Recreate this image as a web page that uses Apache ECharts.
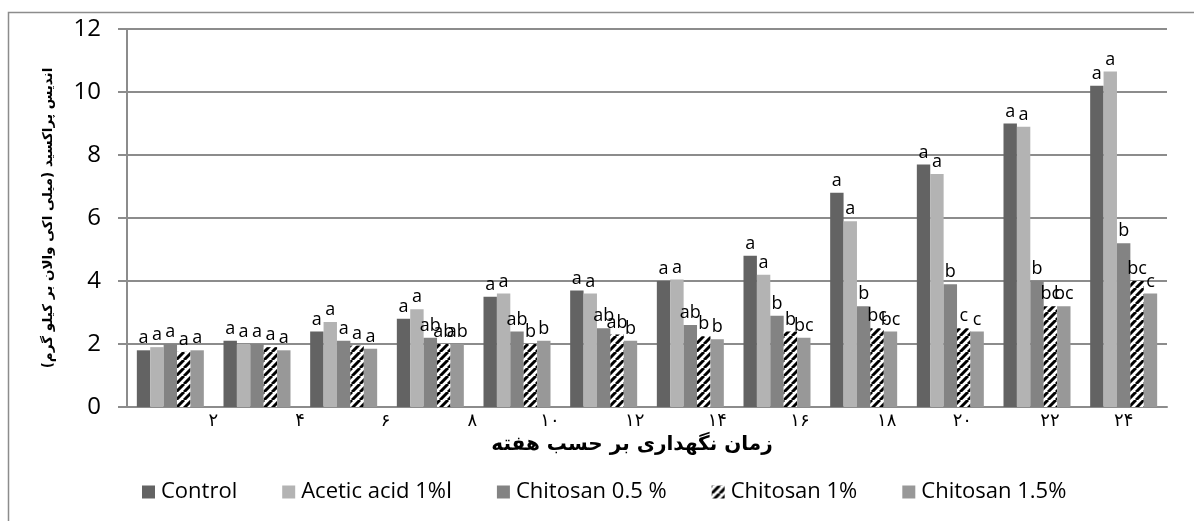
<!DOCTYPE html>
<html>
<head>
<meta charset="utf-8">
<script src="https://cdn.jsdelivr.net/npm/echarts@6/dist/echarts.min.js"></script>
<style>
  html, body { margin: 0; padding: 0; background: #fff; }
  #main { width: 1194px; height: 521px; }
</style>
</head>
<body>
<div id="main"></div>
<script>
// هفته ها
var weeks = ['۲', '۴', '۶', '۸', '۱۰', '۱۲', '۱۴', '۱۶', '۱۸', '۲۰', '۲۲', '۲۴'];
var yTicks = [0, 2, 4, 6, 8, 10, 12];

// مقادیر اندیس پراکسید
var control    = [1.8, 2.1, 2.4, 2.8, 3.5, 3.7, 4.0, 4.8, 6.8, 7.7, 9.0, 10.2];
var acetic     = [1.9, 2.0, 2.7, 3.1, 3.6, 3.6, 4.05, 4.2, 5.9, 7.4, 8.9, 10.65];
var chitosan05 = [2.0, 2.0, 2.1, 2.2, 2.4, 2.5, 2.6, 2.9, 3.2, 3.9, 4.0, 5.2];
var chitosan1  = [1.75, 1.9, 1.95, 2.0, 2.0, 2.3, 2.25, 2.4, 2.5, 2.5, 3.2, 4.0];
var chitosan15 = [1.8, 1.8, 1.85, 2.0, 2.1, 2.1, 2.15, 2.2, 2.4, 2.4, 3.2, 3.6];

// حروف معنی داری
var controlLetters    = ['a', 'a', 'a', 'a', 'a', 'a', 'a', 'a', 'a', 'a', 'a', 'a'];
var aceticLetters     = ['a', 'a', 'a', 'a', 'a', 'a', 'a', 'a', 'a', 'a', 'a', 'a'];
var chitosan05Letters = ['a', 'a', 'a', 'ab', 'ab', 'ab', 'ab', 'b', 'b', 'b', 'b', 'b'];
var chitosan1Letters  = ['a', 'a', 'a', 'ab', 'b', 'ab', 'b', 'b', 'bc', 'c', 'bc', 'bc'];
var chitosan15Letters = ['a', 'a', 'a', 'ab', 'b', 'b', 'b', 'bc', 'bc', 'c', 'bc', 'c'];

// جابجایی برچسب های محور افقی (مثل اکسل)
var labelShift = [43, 43, 42, 42, 33, 31, 27, 23, 23, 12, 13, 0];

var latin = '"Open Sans", "Liberation Sans", sans-serif';
var persian = '"DejaVu Sans", sans-serif';

// هاشور مورب
function stripes() {
  var c = document.createElement('canvas');
  c.width = 8; c.height = 8;
  var ctx = c.getContext('2d');
  ctx.fillStyle = '#fff';
  ctx.fillRect(0, 0, 8, 8);
  ctx.strokeStyle = '#000';
  ctx.lineWidth = 3;
  ctx.beginPath();
  for (var k = -8; k <= 8; k += 8) {
    ctx.moveTo(k, 8);
    ctx.lineTo(k + 8, 0);
  }
  ctx.stroke();
  return { image: c, repeat: 'repeat' };
}

var chart = echarts.init(document.getElementById('main'), null, { renderer: 'canvas' });

function makeSeries(name, data, letters, color) {
  return {
    name: name,
    type: 'bar',
    data: data,
    barWidth: 13.4,
    barGap: '0%',
    itemStyle: { color: color },
    label: {
      show: true,
      position: 'top',
      distance: 3,
      fontFamily: latin,
      fontSize: 18,
      color: '#000',
      formatter: function (p) { return letters[p.dataIndex]; }
    }
  };
}

var rich = {};
labelShift.forEach(function (s, i) {
  rich['s' + i] = { padding: [0, 0, 0, s * 2], fontFamily: persian, fontSize: 18, color: '#000' };
});

var option = {
  animation: false,
  backgroundColor: '#fff',
  graphic: [{
    type: 'rect',
    shape: { x: 8.5, y: 12.5, width: 1200, height: 520 },
    style: { fill: 'none', stroke: '#8c8c8c', lineWidth: 1.5 },
    silent: true
  }],
  grid: { left: 127, right: 27, top: 29, bottom: 114 },
  legend: {
    left: 137,
    top: 476,
    itemWidth: 13,
    itemHeight: 13,
    itemGap: 45,
    icon: 'rect',
    textStyle: { fontFamily: latin, fontSize: 22, color: '#000', padding: [0, 0, 0, 1] },
    data: ['Control', 'Acetic acid 1%ا', 'Chitosan 0.5 %', 'Chitosan 1%', 'Chitosan 1.5%']
  },
  xAxis: {
    type: 'category',
    data: weeks,
    name: 'زمان نگهداری بر حسب هفته',
    nameLocation: 'middle',
    nameGap: 12,
    nameTextStyle: { fontFamily: persian, fontWeight: 'bold', fontSize: 20, color: '#000', padding: [0, 30, 0, 0] },
    axisLine: { lineStyle: { color: '#8c8c8c', width: 2 } },
    axisTick: { show: false },
    axisLabel: {
      margin: 5,
      formatter: function (v, i) { return '{s' + i + '|' + v + '}'; },
      rich: rich
    }
  },
  yAxis: {
    type: 'value',
    min: yTicks[0],
    max: yTicks[yTicks.length - 1],
    interval: 2,
    name: 'اندیس پراکسید (میلی اکی والان بر کیلو گرم)\u200F',
    nameLocation: 'middle',
    nameRotate: 90,
    nameGap: 72,
    nameTextStyle: { fontFamily: persian, fontWeight: 'bold', fontSize: 13.5, color: '#000' },
    axisLine: { show: true, lineStyle: { color: '#8c8c8c', width: 2 } },
    axisTick: { show: true, length: 9, lineStyle: { color: '#8c8c8c', width: 2 } },
    axisLabel: { margin: 26, fontFamily: latin, fontSize: 24, color: '#000' },
    splitLine: { lineStyle: { color: '#8c8c8c', width: 2 } }
  },
  series: [
    makeSeries('Control', control, controlLetters, '#636363'),
    makeSeries('Acetic acid 1%ا', acetic, aceticLetters, '#b3b3b3'),
    makeSeries('Chitosan 0.5 %', chitosan05, chitosan05Letters, '#838383'),
    makeSeries('Chitosan 1%', chitosan1, chitosan1Letters, stripes()),
    makeSeries('Chitosan 1.5%', chitosan15, chitosan15Letters, '#989898')
  ]
};

chart.setOption(option);
</script>
</body>
</html>
